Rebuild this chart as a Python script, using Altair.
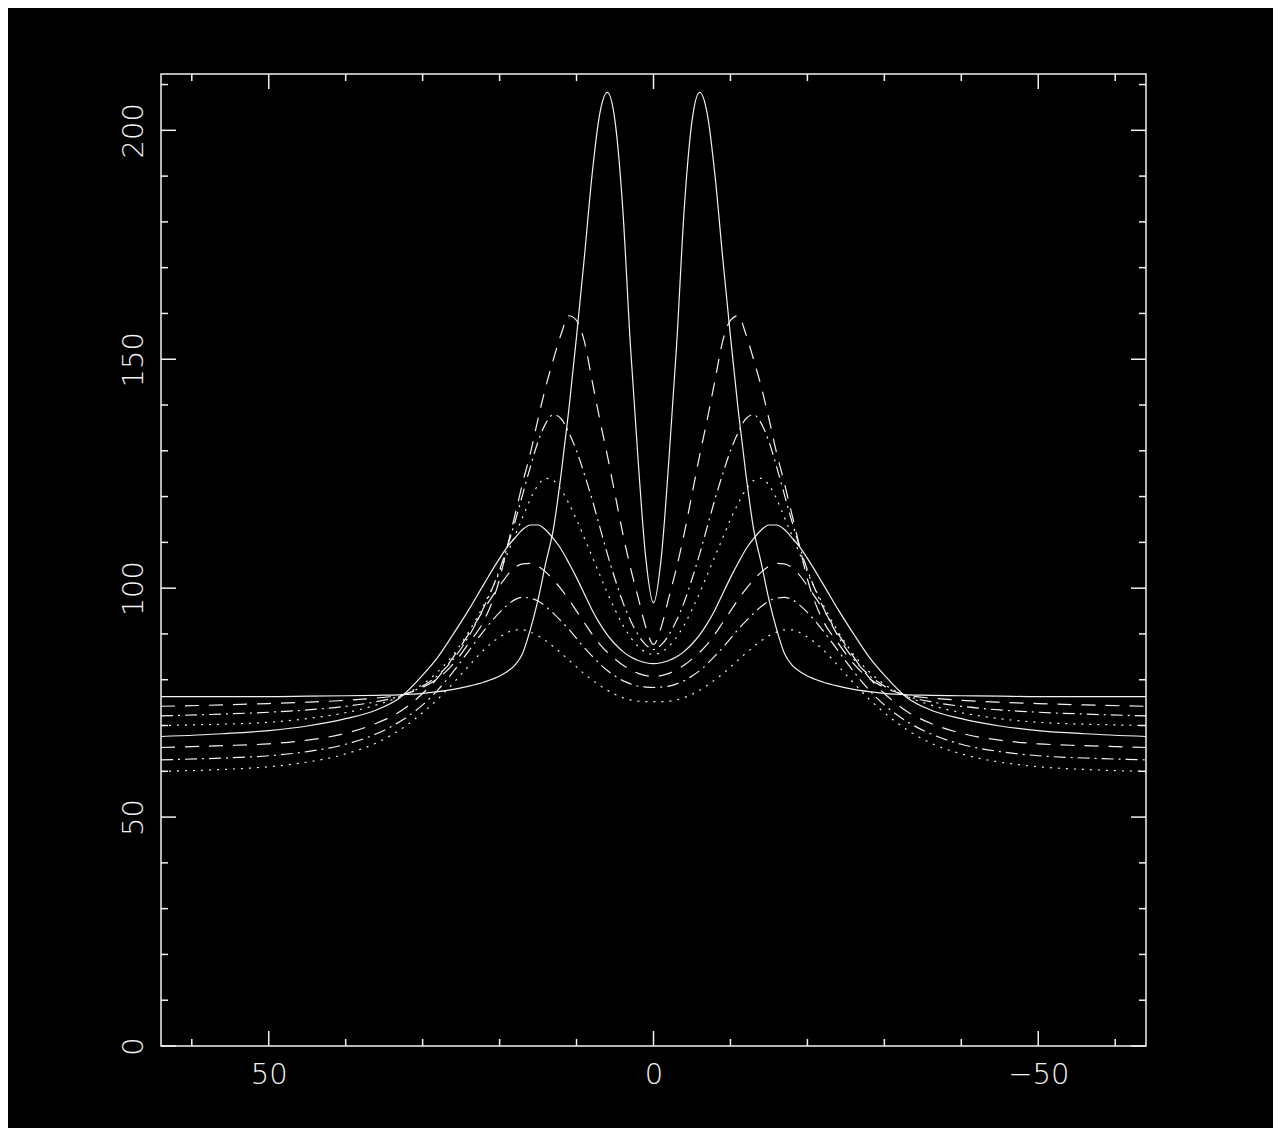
import altair as alt
import pandas as pd

# x positions (data units; axis runs from +64 on the left to -64 on the right)
X = [64, 56, 50, 45, 40, 36, 33, 30, 28, 26, 24, 22, 20, 19, 18, 17, 16, 15, 14, 13, 12, 11, 10, 9, 8, 7, 6, 5, 4, 3, 2, 1, 0,
     -1, -2, -3, -4, -5, -6, -7, -8, -9, -10, -11, -12, -13, -14, -15, -16, -17, -18, -19, -20, -22, -24, -26, -28, -30, -33, -36, -40, -45, -50, -56, -64]

# curve 1: solid, tall double peak
Y1 = [76.3, 76.3, 76.3, 76.4, 76.5, 76.6, 76.7, 77.0, 77.4, 77.9, 78.6, 79.5, 80.8, 81.8, 83.2, 85.8, 91.0, 97.5, 105.5, 113.0, 125.0, 139.0, 155.0, 172.0, 190.0, 203.5, 208.3, 202.0, 183.0, 153.0, 128.0, 106.5, 96.8,
      106.5, 128.0, 153.0, 183.0, 202.0, 208.3, 203.5, 190.0, 172.0, 155.0, 139.0, 125.0, 113.0, 105.5, 97.5, 91.0, 85.8, 83.2, 81.8, 80.8, 79.5, 78.6, 77.9, 77.4, 77.0, 76.7, 76.6, 76.5, 76.4, 76.3, 76.3, 76.3]
# curve 2: dashed
Y2 = [74.2, 74.5, 74.8, 75.1, 75.5, 76.0, 76.6, 78.3, 80.3, 83.5, 88.0, 93.0, 102.0, 109.0, 116.0, 123.0, 129.5, 137.0, 144.0, 150.0, 155.5, 159.5, 158.5, 154.0, 145.5, 137.0, 129.0, 120.5, 112.0, 104.5, 98.0, 91.5, 87.7,
      91.5, 98.0, 104.5, 112.0, 120.5, 129.0, 137.0, 145.5, 154.0, 158.5, 159.5, 155.5, 150.0, 144.0, 137.0, 129.5, 123.0, 116.0, 109.0, 102.0, 93.0, 88.0, 83.5, 80.3, 78.3, 76.6, 76.0, 75.5, 75.1, 74.8, 74.5, 74.2]
# curve 3: dash-dot
Y3 = [72.1, 72.5, 72.9, 73.4, 74.2, 75.2, 76.4, 78.6, 81.0, 84.5, 89.5, 96.0, 104.0, 109.0, 114.5, 120.5, 126.5, 132.0, 136.0, 137.9, 137.0, 134.0, 130.0, 125.0, 119.5, 113.5, 107.5, 102.0, 97.0, 93.0, 89.8, 87.6, 86.6,
      87.6, 89.8, 93.0, 97.0, 102.0, 107.5, 113.5, 119.5, 125.0, 130.0, 134.0, 137.0, 137.9, 136.0, 132.0, 126.5, 120.5, 114.5, 109.0, 104.0, 96.0, 89.5, 84.5, 81.0, 78.6, 76.4, 75.2, 74.2, 73.4, 72.9, 72.5, 72.1]
# curve 4: dotted
Y4 = [70.0, 70.3, 70.7, 71.5, 72.8, 74.5, 76.3, 79.0, 81.8, 85.5, 90.5, 96.5, 103.5, 107.5, 111.5, 115.5, 119.5, 122.5, 124.0, 123.5, 121.5, 118.5, 115.0, 111.0, 107.0, 103.0, 99.0, 95.3, 92.0, 89.3, 87.3, 86.0, 85.5,
      86.0, 87.3, 89.3, 92.0, 95.3, 99.0, 103.0, 107.0, 111.0, 115.0, 118.5, 121.5, 123.5, 124.0, 122.5, 119.5, 115.5, 111.5, 107.5, 103.5, 96.5, 90.5, 85.5, 81.8, 79.0, 76.3, 74.5, 72.8, 71.5, 70.7, 70.3, 70.0]
# curve 5: solid
Y5 = [67.6, 68.2, 68.9, 69.9, 71.5, 73.4, 76.0, 81.0, 85.0, 90.0, 95.3, 101.0, 106.5, 109.0, 111.0, 112.8, 113.8, 113.8, 112.7, 110.8, 108.5, 105.5, 102.3, 98.8, 95.3, 92.3, 89.8, 87.8, 86.2, 85.0, 84.2, 83.7, 83.5,
      83.7, 84.2, 85.0, 86.2, 87.8, 89.8, 92.3, 95.3, 98.8, 102.3, 105.5, 108.5, 110.8, 112.7, 113.8, 113.8, 112.8, 111.0, 109.0, 106.5, 101.0, 95.3, 90.0, 85.0, 81.0, 76.0, 73.4, 71.5, 69.9, 68.9, 68.2, 67.6]
# curve 6: dashed
Y6 = [65.2, 65.6, 66.0, 66.8, 68.3, 70.5, 73.0, 77.0, 80.5, 85.0, 90.0, 95.5, 100.5, 102.8, 104.5, 105.3, 105.4, 104.8, 103.5, 101.8, 99.8, 97.5, 95.0, 92.5, 90.0, 87.8, 86.0, 84.5, 83.2, 82.2, 81.4, 80.9, 80.7,
      80.9, 81.4, 82.2, 83.2, 84.5, 86.0, 87.8, 90.0, 92.5, 95.0, 97.5, 99.8, 101.8, 103.5, 104.8, 105.4, 105.3, 104.5, 102.8, 100.5, 95.5, 90.0, 85.0, 80.5, 77.0, 73.0, 70.5, 68.3, 66.8, 66.0, 65.6, 65.2]
# curve 7: dash-dot
Y7 = [62.5, 62.9, 63.4, 64.3, 65.9, 68.2, 70.8, 74.5, 77.8, 81.8, 86.3, 90.8, 94.7, 96.3, 97.5, 98.0, 97.8, 97.2, 96.0, 94.5, 92.8, 91.0, 89.0, 87.0, 85.2, 83.5, 82.0, 80.8, 79.8, 79.1, 78.6, 78.4, 78.3,
      78.4, 78.6, 79.1, 79.8, 80.8, 82.0, 83.5, 85.2, 87.0, 89.0, 91.0, 92.8, 94.5, 96.0, 97.2, 97.8, 98.0, 97.5, 96.3, 94.7, 90.8, 86.3, 81.8, 77.8, 74.5, 70.8, 68.2, 65.9, 64.3, 63.4, 62.9, 62.5]
# curve 8: dotted
Y8 = [60.0, 60.4, 61.0, 62.0, 63.8, 66.2, 69.0, 72.8, 75.8, 79.3, 83.0, 86.6, 89.3, 90.3, 90.9, 90.9, 90.4, 89.6, 88.5, 87.2, 85.8, 84.3, 82.8, 81.3, 80.0, 78.8, 77.7, 76.8, 76.1, 75.6, 75.3, 75.2, 75.2,
      75.2, 75.3, 75.6, 76.1, 76.8, 77.7, 78.8, 80.0, 81.3, 82.8, 84.3, 85.8, 87.2, 88.5, 89.6, 90.4, 90.9, 90.9, 90.3, 89.3, 86.6, 83.0, 79.3, 75.8, 72.8, 69.0, 66.2, 63.8, 62.0, 61.0, 60.4, 60.0]

X_MAJOR = [-50, 0, 50]
X_MINOR = [-60, -40, -30, -20, -10, 10, 20, 30, 40, 60]
Y_MAJOR = [0, 50, 100, 150, 200]
Y_MINOR = [10, 20, 30, 40, 60, 70, 80, 90, 110, 120, 130, 140, 160, 170, 180, 190, 210]

W, H = 985, 972
FG = "#f2f2f2"
FONT = "DejaVu Sans"

xs = alt.Scale(domain=[-64, 64], reverse=True, nice=False, zero=False)
ys = alt.Scale(domain=[0, 212.3], nice=False, zero=False)

xaxis = alt.Axis(values=X_MAJOR, title=None, grid=False, domain=False, ticks=False, tickSize=0,
                 labelFontSize=29, labelColor=FG, labelFont=FONT, labelFontWeight=200, labelPadding=37,
                 labelBaseline="alphabetic", labelFlush=False, labelOverlap=False)
yaxis = alt.Axis(values=Y_MAJOR, title=None, grid=False, domain=False, ticks=False, tickSize=0,
                 labelFontSize=29, labelColor=FG, labelFont=FONT, labelFontWeight=200, labelPadding=19,
                 labelAngle=270, labelAlign="center", labelBaseline="alphabetic",
                 labelFlush=False, labelOverlap=False)

curves = [(Y1, None), (Y2, [14, 10]), (Y3, [12, 5, 2, 5]), (Y4, [2, 6]),
          (Y5, None), (Y6, [14, 10]), (Y7, [12, 5, 2, 5]), (Y8, [2, 6])]

layers = []
for i, (yv, dash) in enumerate(curves):
    df = pd.DataFrame({"x": X, "y": yv})
    kw = dict(color=FG, strokeWidth=1.2, interpolate="monotone", clip=True)
    if dash:
        kw["strokeDash"] = dash
    layers.append(
        alt.Chart(df).mark_line(**kw).encode(
            x=alt.X("x:Q", scale=xs, axis=xaxis),
            y=alt.Y("y:Q", scale=ys, axis=yaxis),
        )
    )


def xticks(vals, length):
    d = pd.DataFrame({"v": vals})
    bottom = alt.Chart(d).mark_rule(color=FG, strokeWidth=1.5).encode(
        x=alt.X("v:Q", scale=xs, axis=xaxis), y=alt.value(H), y2=alt.value(H - length))
    top = alt.Chart(d).mark_rule(color=FG, strokeWidth=1.5).encode(
        x=alt.X("v:Q", scale=xs, axis=xaxis), y=alt.value(0), y2=alt.value(length))
    return [bottom, top]


def yticks(vals, length):
    d = pd.DataFrame({"v": vals})
    left = alt.Chart(d).mark_rule(color=FG, strokeWidth=1.5).encode(
        y=alt.Y("v:Q", scale=ys, axis=yaxis), x=alt.value(0), x2=alt.value(length))
    right = alt.Chart(d).mark_rule(color=FG, strokeWidth=1.5).encode(
        y=alt.Y("v:Q", scale=ys, axis=yaxis), x=alt.value(W), x2=alt.value(W - length))
    return [left, right]


layers += xticks(X_MAJOR, 15) + xticks(X_MINOR, 7) + yticks(Y_MAJOR, 15) + yticks(Y_MINOR, 7)

chart = alt.layer(*layers).properties(
    width=W, height=H,
    autosize=alt.AutoSizeParams(type="none"),
    padding={"left": 153, "top": 66, "right": 127, "bottom": 82},
    background="black",
).configure_view(stroke=FG, strokeWidth=1.5)

chart.save("out.html", embed_options={"renderer": "svg", "actions": False})
